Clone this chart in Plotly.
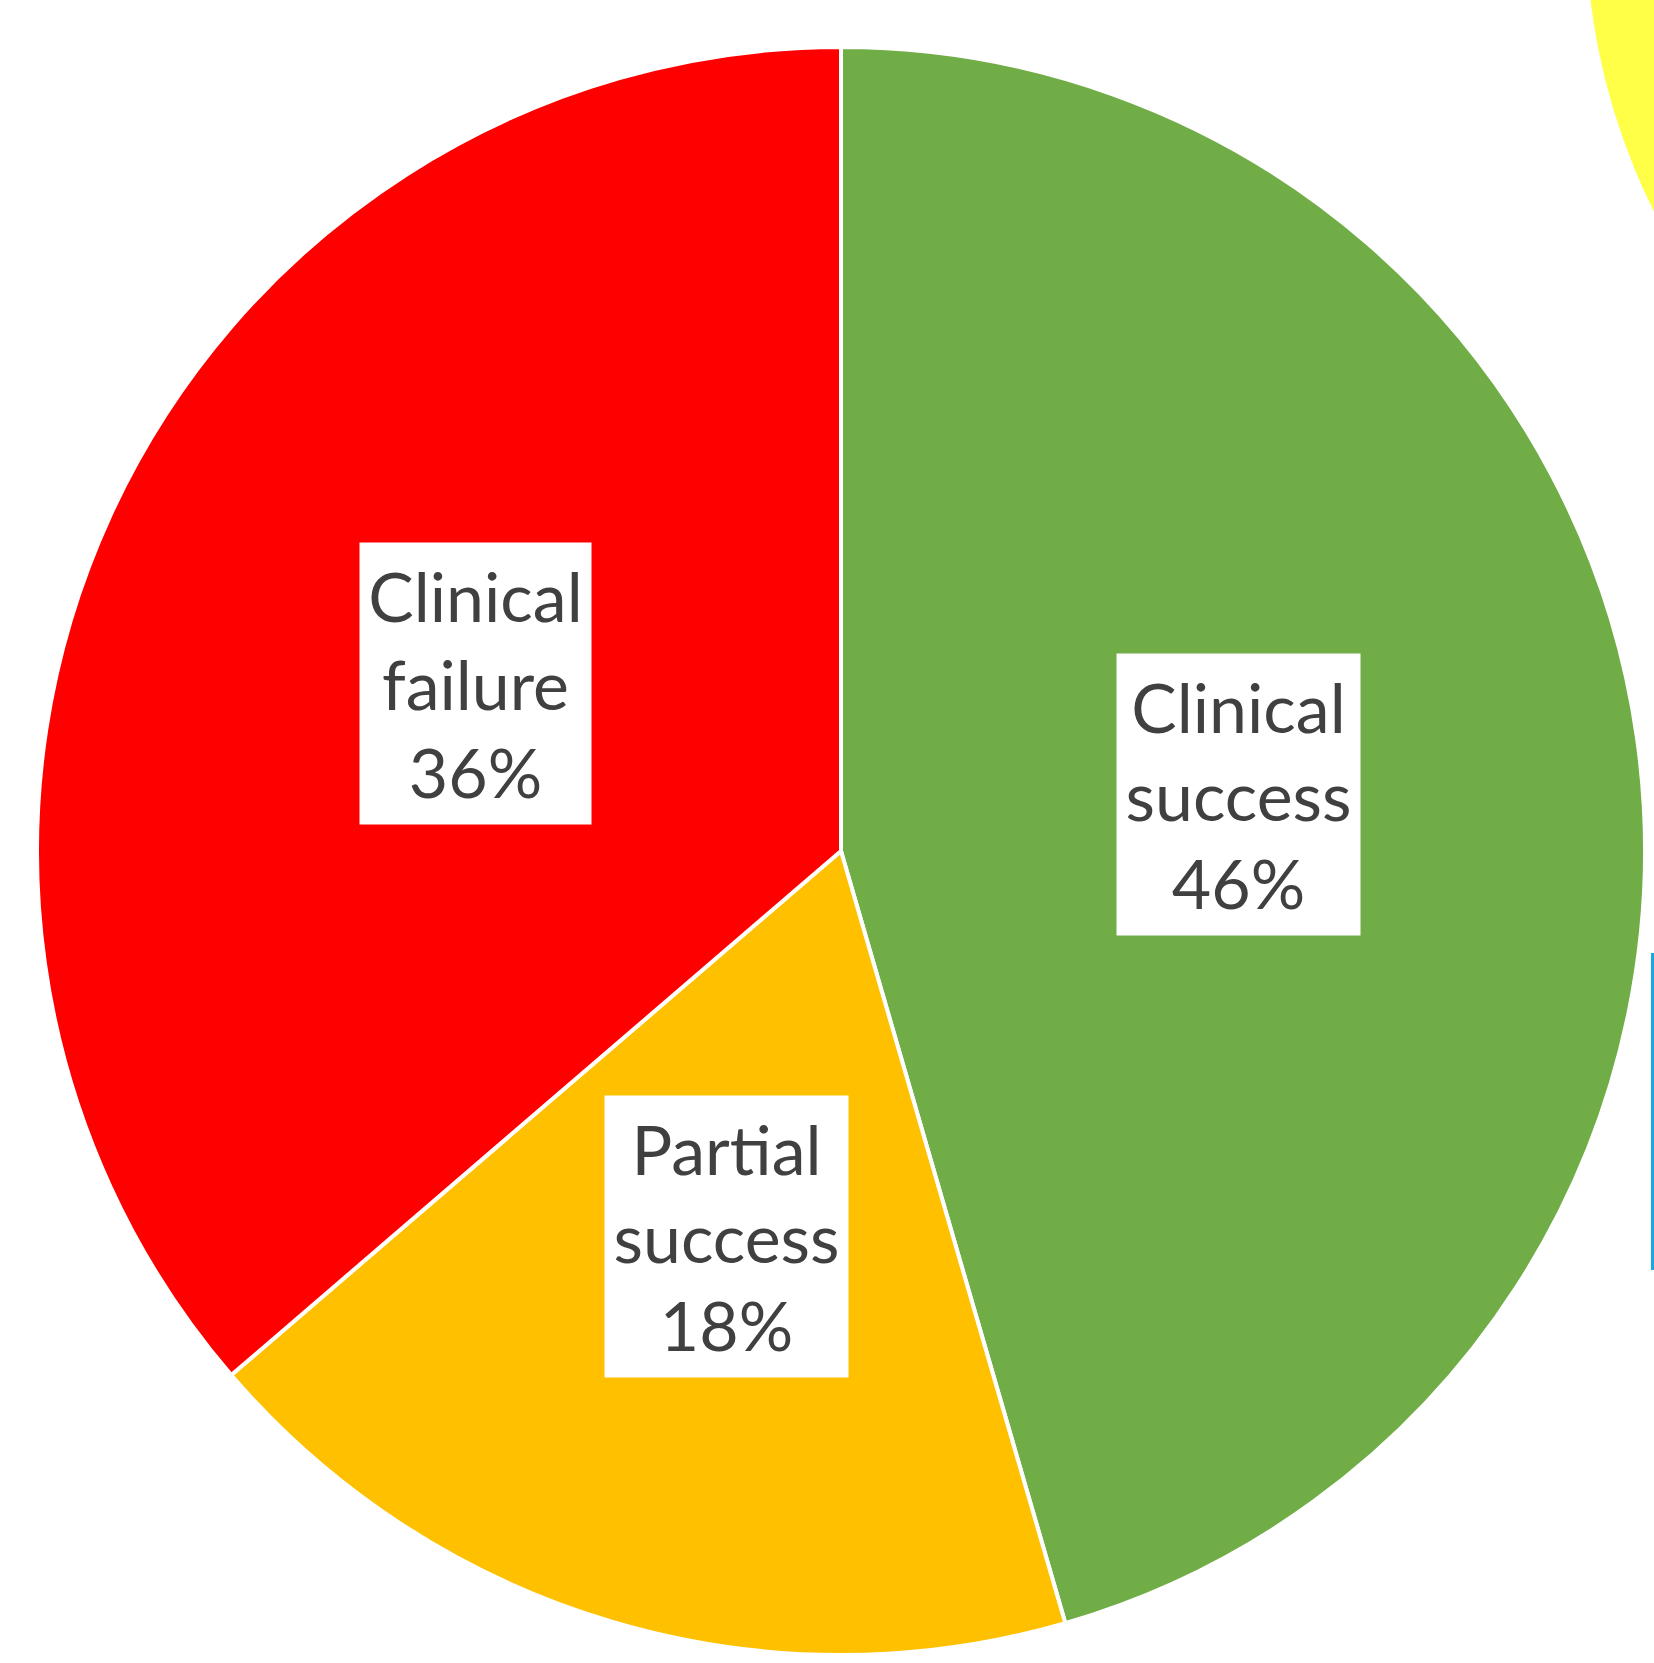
import math
import plotly.graph_objects as go

categories = ["Clinical success", "Partial success", "Clinical failure"]
label_lines = ["Clinical<br>success", "Partial<br>success", "Clinical<br>failure"]
values = [45.5, 18.2, 36.3]          # slice sizes as measured from the slice angles
pct_labels = ["46%", "18%", "36%"]   # percentages printed on the chart
colors = ["#70AD47", "#FFC000", "#FF0000"]

W, H = 1654, 1663
cx, cy, R = 841, 851, 804  # pie centre / radius in pixels (top-left origin)

fig = go.Figure(go.Pie(
    labels=categories,
    values=values,
    sort=False,
    direction="clockwise",
    rotation=0,
    marker=dict(colors=colors, line=dict(color="white", width=4)),
    textinfo="none",
    hoverinfo="label+percent",
    domain=dict(x=[(cx - R) / W, (cx + R) / W],
                y=[(H - cy - R) / H, (H - cy + R) / H]),
    showlegend=False,
))

# Data labels: white boxes at half radius along each slice's mid-angle
total = sum(values)
cum = 0
annotations = []
box_w = {"Clinical success": 243, "Partial success": 243, "Clinical failure": 231}
for cat, lab, pct, v in zip(categories, label_lines, pct_labels, values):
    mid = (cum + v / 2) / total * 2 * math.pi
    cum += v
    px = cx + 0.5 * R * math.sin(mid)
    py = cy - 0.5 * R * math.cos(mid)
    annotations.append(dict(
        x=px / W, y=1 - py / H, xref="paper", yref="paper",
        text=f"{lab}<br>{pct}", showarrow=False,
        font=dict(family="Lato, Noto Sans, sans-serif", size=68, color="#404040"),
        bgcolor="white", borderpad=0,
        width=box_w[cat], height=281, align="center", valign="middle",
        xanchor="center", yanchor="middle",
    ))

shapes = [
    # partial shapes of neighbouring objects cut at the image edge
    dict(type="circle", xref="paper", yref="paper",
         x0=(2228 - 642) / W, x1=(2228 + 642) / W,
         y0=1 - (-76 + 642) / H, y1=1 - (-76 - 642) / H,
         fillcolor="#FFFF47", line=dict(width=0), layer="below"),
    dict(type="line", xref="paper", yref="paper",
         x0=1652.5 / W, x1=1652.5 / W, y0=1 - 953 / H, y1=1 - 1270 / H,
         line=dict(color="#1AA6E0", width=3)),
]

fig.update_layout(
    width=W, height=H,
    margin=dict(l=0, r=0, t=0, b=0),
    paper_bgcolor="white", plot_bgcolor="white",
    annotations=annotations,
    shapes=shapes,
)

fig.write_html(
    "out.html",
    config={"displayModeBar": False},
    post_script="document.body.style.margin='0';document.body.style.overflow='hidden';",
)
